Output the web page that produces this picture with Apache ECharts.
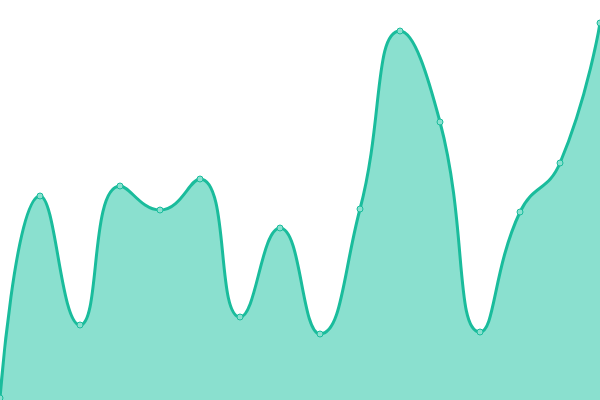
<!DOCTYPE html>
<html><head><meta charset="utf-8">
<script src="https://cdn.jsdelivr.net/npm/echarts@6/dist/echarts.min.js"></script>
<style>html,body{margin:0;padding:0;background:#fff}#c{width:600px;height:400px}</style>
</head><body><div id="c"></div>
<script>
const categories = ['1','2','3','4','5','6','7','8','9','10','11','12','13','14','15','16'];
const values = [2, 204, 75, 214, 190, 221, 83, 172, 66, 191, 369, 278, 68, 188, 237, 377];
const chart = echarts.init(document.getElementById('c'));
chart.setOption({
  animation: false,
  grid: {left: 0, right: 0, top: 0, bottom: 0},
  xAxis: {type: 'category', data: categories, boundaryGap: false, show: false},
  yAxis: {type: 'value', min: 0, max: 400, show: false},
  series: [{
    type: 'line',
    data: values,
    smooth: true,
    symbol: 'circle',
    symbolSize: 6,
    itemStyle: {color: '#8ae0cf', borderColor: '#1abc9c', borderWidth: 1},
    lineStyle: {color: '#1abc9c', width: 3},
    areaStyle: {color: '#8ae0cf', opacity: 1}
  }]
});
</script></body></html>
